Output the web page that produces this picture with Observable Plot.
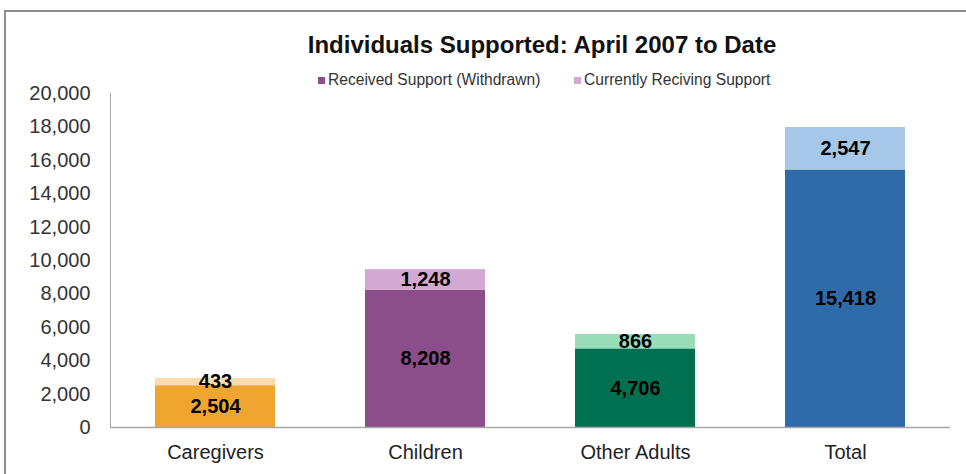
<!DOCTYPE html>
<html>
<head>
<meta charset="utf-8">
<script src="https://cdn.jsdelivr.net/npm/d3@7"></script>
<script src="https://cdn.jsdelivr.net/npm/@observablehq/plot@0.6"></script>
<style>
  html, body { margin: 0; padding: 0; background: #fff; overflow: hidden; }
  #wrap { position: relative; width: 966px; height: 474px; font-family: "Liberation Sans", Arial, sans-serif; }
  #border { position: absolute; left: 4px; top: 10px; width: 1000px; height: 600px; border: 2px solid #8c8c8c; box-sizing: border-box; }
  #title { position: absolute; left: 0; width: 1084px; top: 31px; text-align: center; font-weight: bold; font-size: 24px; color: #111; }
  .leg { position: absolute; top: 71px; font-size: 15.6px; color: #333; white-space: nowrap; }
  .leg span { display: inline-block; width: 7px; height: 7px; margin-right: 3px; vertical-align: 1px; }
  #chart { position: absolute; left: 0; top: 0; }
</style>
</head>
<body>
<div id="wrap">
  <div id="border"></div>
  <div id="chart"></div>
  <div id="title">Individuals Supported: April 2007 to Date</div>
  <div id="legend"></div>
</div>
<script>
const categories = ["Caregivers", "Children", "Other Adults", "Total"];
const series = ["Received Support (Withdrawn)", "Currently Reciving Support"];
const withdrawn = [2504, 8208, 4706, 15418];
const current = [433, 1248, 866, 2547];
const withdrawnColors = ["#F0A530", "#8B4E8B", "#007050", "#2E6BA8"];
const currentColors = ["#F9DCAE", "#D3A8D3", "#98DCB8", "#A6C8E8"];
const yTicks = [0, 2000, 4000, 6000, 8000, 10000, 12000, 14000, 16000, 18000, 20000];

const rows = [];
categories.forEach((c, i) => {
  rows.push({category: c, series: series[0], value: withdrawn[i], key: c + "|0"});
  rows.push({category: c, series: series[1], value: current[i], key: c + "|1"});
});
const colorDomain = categories.flatMap(c => [c + "|0", c + "|1"]);
const colorRange = categories.flatMap((c, i) => [withdrawnColors[i], currentColors[i]]);

const plot = Plot.plot({
  width: 966,
  height: 474,
  marginLeft: 110,
  marginRight: 16,
  marginTop: 93,
  marginBottom: 47,
  style: {fontFamily: "'Liberation Sans', Arial, sans-serif", background: "transparent", overflow: "visible"},
  x: {domain: categories, paddingInner: 0.43, paddingOuter: 0.21, label: null},
  y: {domain: [0, 20000], label: null},
  color: {domain: colorDomain, range: colorRange},
  marks: [
    Plot.barY(rows, {x: "category", y: "value", fill: "key", order: null}),
    Plot.frame({anchor: "left", stroke: "#a6a6a6"}),
    Plot.ruleY([0], {stroke: "#a6a6a6", strokeWidth: 1.5}),
    Plot.axisY({ticks: yTicks, tickSize: 0, tickPadding: 20, tickFormat: d3.format(","), fontSize: 20, fill: "#333", label: null}),
    Plot.axisX({tickSize: 0, tickPadding: 17, fontSize: 20, fill: "#222", label: null}),
    Plot.text(rows, Plot.stackY({x: "category", y: "value", order: null, text: d => d3.format(",")(d.value), fontSize: 20, fontWeight: "bold", fill: "#000"}))
  ]
});
document.getElementById("chart").appendChild(plot);

const legend = document.getElementById("legend");
const legX = [318, 574];
const legColors = [withdrawnColors[1], currentColors[1]];
series.forEach((s, i) => {
  const d = document.createElement("div");
  d.className = "leg";
  d.style.left = legX[i] + "px";
  d.innerHTML = `<span style="background:${legColors[i]}"></span>${s}`;
  legend.appendChild(d);
});
</script>
</body>
</html>
